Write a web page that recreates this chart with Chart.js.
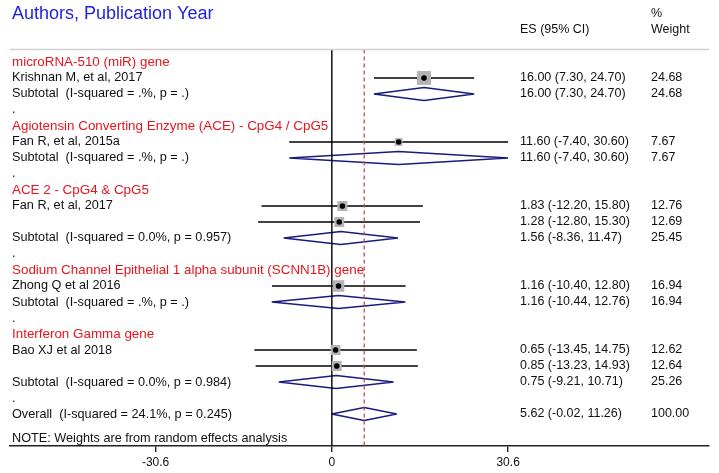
<!DOCTYPE html>
<html>
<head>
<meta charset="utf-8">
<script src="https://cdn.jsdelivr.net/npm/chart.js@4/dist/chart.umd.min.js"></script>
<style>
  html, body { margin: 0; padding: 0; background: #fff; }
  #wrap { width: 719px; height: 473px; position: relative; }
</style>
</head>
<body>
<div id="wrap"><canvas id="forest"></canvas></div>
<script>
// Subgroup headings and the rows they sit on
const groupNames = ['microRNA-510 (miR) gene', 'Agiotensin Converting Enzyme (ACE) - CpG4 / CpG5',
  'ACE 2 - CpG4 & CpG5', 'Sodium Channel Epithelial 1 alpha subunit (SCNN1B) gene', 'Interferon Gamma gene'];
const groupRows = [0, 4, 8, 13, 17];

// Individual studies
const studyRows = [1, 5, 9, 10, 14, 18, 19];
const studyLabels = ['Krishnan M, et al, 2017', 'Fan R, et al, 2015a', 'Fan R, et al, 2017', '',
  'Zhong Q et al 2016', 'Bao XJ et al 2018', ''];
const studyES = [16.00, 11.60, 1.83, 1.28, 1.16, 0.65, 0.85];
const studyLo = [7.30, -7.40, -12.20, -12.80, -10.40, -13.45, -13.23];
const studyHi = [24.70, 30.60, 15.80, 15.30, 12.80, 14.75, 14.93];
const studyWeight = [24.68, 7.67, 12.76, 12.69, 16.94, 12.62, 12.64];

// Subtotals and overall (diamonds)
const subRows = [2, 6, 11, 15, 20, 22];
const subLabels = ['Subtotal  (I-squared = .%, p = .)', 'Subtotal  (I-squared = .%, p = .)',
  'Subtotal  (I-squared = 0.0%, p = 0.957)', 'Subtotal  (I-squared = .%, p = .)',
  'Subtotal  (I-squared = 0.0%, p = 0.984)', 'Overall  (I-squared = 24.1%, p = 0.245)'];
const subES = [16.00, 11.60, 1.56, 1.16, 0.75, 5.62];
const subLo = [7.30, -7.40, -8.36, -10.44, -9.21, -0.02];
const subHi = [24.70, 30.60, 11.47, 12.76, 10.71, 11.26];
const subWeight = [24.68, 7.67, 25.45, 16.94, 25.26, 100.00];

const dotRows = [3, 7, 12, 16, 21];
const xTicks = [-30.6, 0, 30.6];
const overallES = 5.62;

const X_MIN = -55.9, X_MAX = 65.5, Y_TOP = -0.78, Y_BOT = 24;
const FONT = '"Liberation Sans", Arial, sans-serif';

function fmt(v) { return v.toFixed(2); }
function ciText(es, lo, hi) { return fmt(es) + ' (' + fmt(lo) + ', ' + fmt(hi) + ')'; }

const datasets = [];

// top rule
datasets.push({ data: [{ x: X_MIN, y: Y_TOP }, { x: X_MAX, y: Y_TOP }], borderColor: '#cfcfcf', borderWidth: 1.5 });
// no-effect line
datasets.push({ data: [{ x: 0, y: Y_TOP }, { x: 0, y: Y_BOT }], borderColor: '#000', borderWidth: 1.4 });
// overall effect dashed line
datasets.push({ data: [{ x: overallES, y: Y_TOP }, { x: overallES, y: Y_BOT }], borderColor: '#c0505a', borderWidth: 1.3, borderDash: [4, 3] });

// study confidence intervals
studyRows.forEach((r, i) => {
  datasets.push({ data: [{ x: studyLo[i], y: r }, { x: studyHi[i], y: r }], borderColor: '#000', borderWidth: 1.5 });
});

// diamonds
subRows.forEach((r, i) => {
  datasets.push({
    data: [{ x: subLo[i], y: r }, { x: subES[i], y: r - 0.4 }, { x: subHi[i], y: r },
           { x: subES[i], y: r + 0.4 }, { x: subLo[i], y: r }],
    borderColor: '#1a1a80', borderWidth: 1.5, borderJoinStyle: 'bevel'
  });
});

datasets.forEach(d => { d.showLine = true; d.pointRadius = 0; d.order = 3; });

// weight boxes
datasets.push({
  data: studyRows.map((r, i) => ({ x: studyES[i], y: r })),
  showLine: false,
  order: 2,
  pointStyle: 'rect',
  pointRadius: studyWeight.map(w => 2.8 * Math.sqrt(w) / Math.SQRT2),
  backgroundColor: '#b4b4b4',
  borderWidth: 0
});
// point estimates
datasets.push({
  data: studyRows.map((r, i) => ({ x: studyES[i], y: r })),
  showLine: false,
  order: 1,
  pointStyle: 'circle',
  pointRadius: 2.8,
  backgroundColor: '#000',
  borderWidth: 0
});

datasets.forEach(d => { d.clip = false; });

// text columns drawn against the y scale rows
const textPlugin = {
  id: 'forestText',
  afterDraw(chart) {
    const ctx = chart.ctx;
    const y = chart.scales.y;
    ctx.save();
    ctx.textBaseline = 'middle';
    ctx.textAlign = 'left';
    ctx.font = '18px ' + FONT;
    ctx.fillStyle = '#1e1ee0';
    ctx.fillText('Authors, Publication Year', 12, 14);

    ctx.font = '12.5px ' + FONT;
    ctx.fillStyle = '#111';
    ctx.fillText('ES (95% CI)', 520, 30);
    ctx.fillText('%', 651, 14);
    ctx.fillText('Weight', 651, 30);

    ctx.font = '13.4px ' + FONT;
    ctx.fillStyle = '#e8141e';
    groupRows.forEach((r, i) => ctx.fillText(groupNames[i], 12, y.getPixelForValue(r)));

    ctx.fillStyle = '#111';
    studyRows.forEach((r, i) => {
      const py = y.getPixelForValue(r);
      ctx.font = '12.7px ' + FONT;
      ctx.fillText(studyLabels[i], 12, py);
      ctx.font = '12.5px ' + FONT;
      ctx.fillText(ciText(studyES[i], studyLo[i], studyHi[i]), 520, py);
      ctx.fillText(fmt(studyWeight[i]), 651, py);
    });
    subRows.forEach((r, i) => {
      const py = y.getPixelForValue(r);
      ctx.font = '12.7px ' + FONT;
      ctx.fillText(subLabels[i], 12, py);
      ctx.font = '12.5px ' + FONT;
      ctx.fillText(ciText(subES[i], subLo[i], subHi[i]), 520, py);
      ctx.fillText(fmt(subWeight[i]), 651, py);
    });
    ctx.font = '12.7px ' + FONT;
    dotRows.forEach(r => ctx.fillText('.', 12, y.getPixelForValue(r)));
    ctx.fillText('NOTE: Weights are from random effects analysis', 12, y.getPixelForValue(23.5));
    ctx.restore();
  }
};

new Chart(document.getElementById('forest'), {
  type: 'scatter',
  data: { datasets: datasets },
  options: {
    responsive: true,
    maintainAspectRatio: false,
    animation: false,
    layout: { padding: { left: 8, right: 7, top: 49.5, bottom: 0 } },
    plugins: { legend: { display: false }, tooltip: { enabled: false } },
    scales: {
      x: {
        type: 'linear', min: X_MIN, max: X_MAX,
        afterBuildTicks: s => { s.ticks = xTicks.map(v => ({ value: v })); },
        afterFit: s => { s.height = 27; },
        border: { display: true, color: '#222', width: 1.4 },
        grid: { drawOnChartArea: false, drawTicks: true, tickLength: 6, color: '#222', lineWidth: 1.4 },
        ticks: { color: '#111', padding: 3, font: { family: FONT, size: 12 }, maxRotation: 0 }
      },
      y: { type: 'linear', min: Y_TOP, max: Y_BOT, reverse: true, display: false }
    }
  },
  plugins: [textPlugin]
});
</script>
</body>
</html>
